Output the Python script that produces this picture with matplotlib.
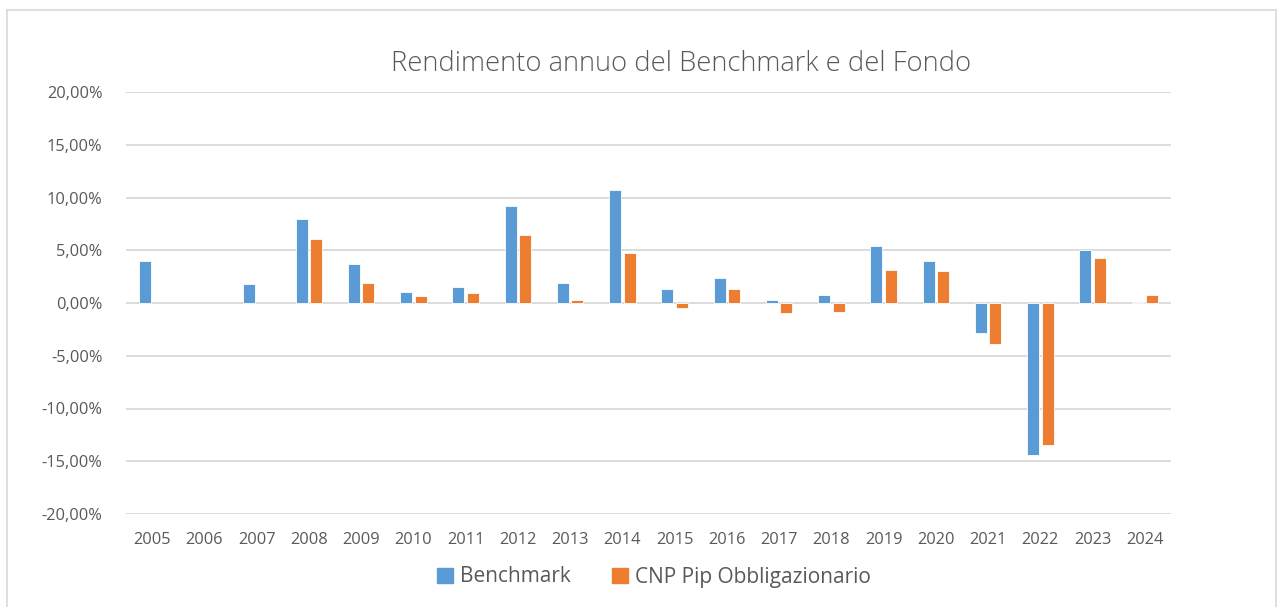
import numpy as np
import matplotlib.pyplot as plt
from matplotlib.lines import Line2D
from matplotlib.ticker import FuncFormatter

plt.rcParams['font.family'] = ['Open Sans', 'DejaVu Sans']

anni = [str(a) for a in range(2005, 2025)]
# None = nessun dato
benchmark = [4.0, None, 1.77, 8.0, 3.67, 1.0, 1.55, 9.24, 1.9, 10.73,
             1.36, 2.4, 0.28, 0.76, 5.37, 4.0, -2.82, -14.37, 5.0, 0.12]
fondo = [None, None, None, 6.1, 1.93, 0.63, 0.91, 6.49, 0.28, 4.78,
         -0.51, 1.33, -0.95, -0.83, 3.16, 3.04, -3.9, -13.46, 4.27, 0.76]

blu = '#5B9BD5'
arancio = '#ED7D31'
grigio = '#595959'

fig = plt.figure(figsize=(12.79, 6.07), dpi=100)
ax = fig.add_axes([126/1279, 1-514/607, (1171-126)/1279, (514-92)/607])

x = np.arange(len(anni))
b = np.array([np.nan if v is None else v for v in benchmark])
f = np.array([np.nan if v is None else v for v in fondo])
w = 0.23
ax.bar(x - 0.14, b, w, color=blu, edgecolor='white', linewidth=0.6, label='Benchmark', zorder=3)
ax.bar(x + 0.14, f, w, color=arancio, edgecolor='white', linewidth=0.6, label='CNP Pip Obbligazionario', zorder=3)

ax.set_xlim(-0.5, len(anni) - 0.5)
ax.set_ylim(-20, 20)
ax.set_yticks(np.arange(-20, 21, 5))
ax.yaxis.set_major_formatter(FuncFormatter(lambda v, p: f'{v:.2f}%'.replace('.', ',')))
ax.set_xticks(x)
ax.set_xticklabels(anni)
ax.grid(axis='y', color='#D9D9D9', linewidth=1.3, zorder=0)
ax.tick_params(axis='both', length=0, colors=grigio, labelsize=11.8)
ax.tick_params(axis='y', pad=17)
ax.tick_params(axis='x', pad=13)
for s in ax.spines.values():
    s.set_visible(False)

fig.text(681/1279, 1-64/607, 'Rendimento annuo del Benchmark e del Fondo',
         ha='center', va='center', fontsize=19.7, color=grigio, fontweight='light')

handles = [plt.Rectangle((0, 0), 1, 1, color=blu), plt.Rectangle((0, 0), 1, 1, color=arancio)]
fig.legend(handles, ['Benchmark', 'CNP Pip Obbligazionario'], loc='center',
           bbox_to_anchor=(654/1279, 1-577/607), ncol=2, frameon=False,
           fontsize=15, labelcolor=grigio, handlelength=0.75, handleheight=0.75,
           handletextpad=0.35, columnspacing=2.0)

# cornice esterna
fig.add_artist(Line2D([7/1279, 7/1279], [0, 1-10/607], transform=fig.transFigure, color='#D9D9D9', lw=1.2))
fig.add_artist(Line2D([7/1279, 1276/1279], [1-10/607, 1-10/607], transform=fig.transFigure, color='#D9D9D9', lw=1.2))
fig.add_artist(Line2D([1276/1279, 1276/1279], [0, 1-10/607], transform=fig.transFigure, color='#D9D9D9', lw=1.2))

fig.savefig('out.png', dpi=100)
